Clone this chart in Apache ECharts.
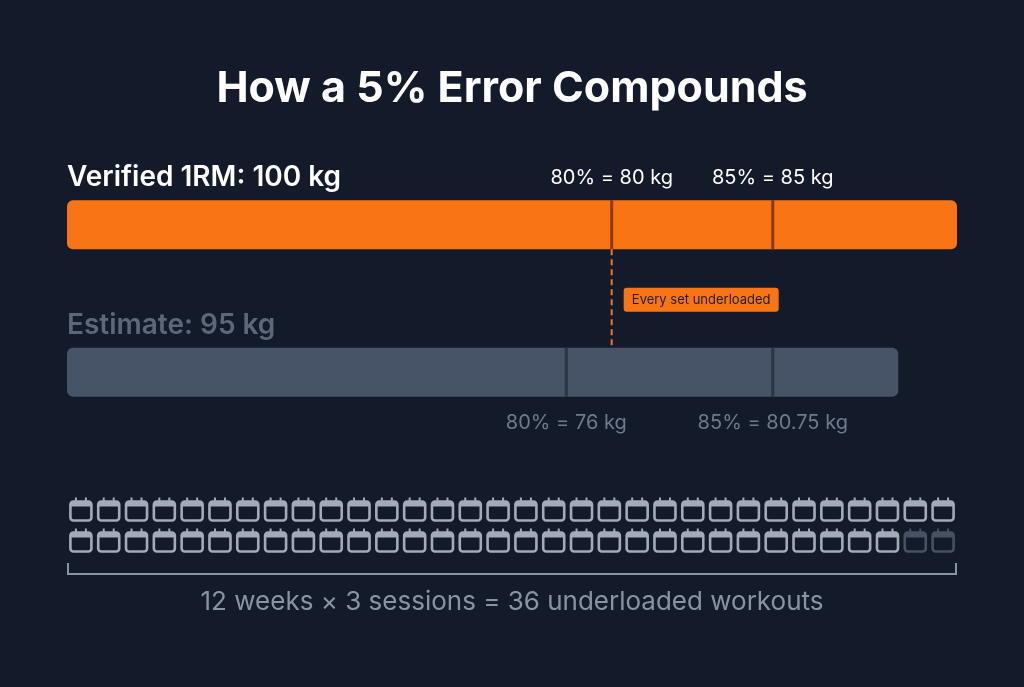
<!DOCTYPE html><html><head><meta charset="utf-8"><script src="https://cdn.jsdelivr.net/npm/echarts@6/dist/echarts.min.js"></script>
<style>html,body{margin:0;background:#131a2a}#c{width:1024px;height:687px}</style></head><body><div id="c"></div><script>
var rows=['Verified 1RM: 100 kg','Estimate: 95 kg'];
var barLen=[100,93.4];            // display length of each bar (share of track)
var markerPos=[[61.2,79.3],[56.1,79.3]]; // marker positions
var markerLabels=[['80% = 80 kg','85% = 85 kg'],['80% = 76 kg','85% = 80.75 kg']];
var calendarCols=32, calendarRows=2, dimIcons=2;
var calendars=[];for(var r=0;r<calendarRows;r++)for(var c=0;c<calendarCols;c++)calendars.push([c,r,(r==1&&c>=calendarCols-dimIcons)?1:0]);
var chart=echarts.init(document.getElementById('c'));
var F='Inter, Roboto, sans-serif';
chart.setOption({backgroundColor:'#131a2a',animation:false,
title:{text:'How a 5% Error Compounds',left:'center',top:63,textStyle:{color:'#fff',fontSize:43,fontWeight:'bold',fontFamily:F}},
grid:[{left:67,width:890,top:151,height:295},{left:67,width:890,top:494,height:62}],
xAxis:[{type:'value',min:0,max:100,show:false,gridIndex:0},{type:'value',min:-0.5,max:calendarCols-0.5,show:false,gridIndex:1}],
yAxis:[{type:'value',min:0,max:2,inverse:true,show:false,gridIndex:0},{type:'value',min:-0.5,max:1.5,inverse:true,show:false,gridIndex:1}],
series:[{type:'custom',xAxisIndex:0,yAxisIndex:0,data:barLen.map(function(v,i){return [v,i];}),
renderItem:function(p,api){var i=p.dataIndex;var s=api.coord([0,i+0.5]),e=api.coord([api.value(0),i+0.5]);
var orange=i==0;var ch=[];
ch.push({type:'rect',shape:{x:s[0],y:s[1]-24.5,width:e[0]-s[0],height:49,r:6},style:{fill:orange?'#f97415':'#475366'}});
markerPos[i].forEach(function(m,k){var q=api.coord([m,i+0.5]);
ch.push({type:'line',shape:{x1:q[0],y1:q[1]-24.5,x2:q[0],y2:q[1]+24.5},style:{stroke:orange?'#8a3a0c':'#2c3546',lineWidth:3}});
ch.push({type:'text',x:q[0],y:orange?q[1]-47:q[1]+51,style:{text:markerLabels[i][k],fill:orange?'#fff':'#6f7a8c',font:'20px '+F,align:'center',verticalAlign:'middle'}});});
ch.push({type:'text',x:s[0],y:s[1]-47,style:{text:rows[i],fill:orange?'#fff':'#5c6779',font:'600 28px '+F,verticalAlign:'middle'}});
if(orange){var q=api.coord([markerPos[0][0],0.5]);var q2=api.coord([markerPos[0][0],1.5]);
ch.push({type:'line',shape:{x1:q[0],y1:q[1]+24.5,x2:q2[0],y2:q2[1]+24.5},style:{stroke:'#f97415',lineWidth:2,lineDash:[6,4]}});
ch.push({type:'rect',shape:{x:q[0]+12,y:q[1]+63,width:155,height:24,r:3},style:{fill:'#f97415'}});
ch.push({type:'text',x:q[0]+89.5,y:q[1]+75,style:{text:'Every set underloaded',fill:'#1c1f29',font:'13px '+F,align:'center',verticalAlign:'middle'}});}
return {type:'group',children:ch};}},
{type:'custom',xAxisIndex:1,yAxisIndex:1,data:calendars,renderItem:function(p,api){var q=api.coord([api.value(0),api.value(1)]);var col=api.value(2)?'#485163':'#a3abb9';
return {type:'group',x:q[0],y:q[1],children:[
{type:'rect',shape:{x:-10.5,y:-8,width:21,height:19,r:3},style:{fill:'none',stroke:col,lineWidth:2.6}},
{type:'rect',shape:{x:-10.5,y:-8,width:21,height:5,r:[3,3,0,0]},style:{fill:col}},
{type:'line',shape:{x1:-5,y1:-12,x2:-5,y2:-7},style:{stroke:col,lineWidth:2}},
{type:'line',shape:{x1:5,y1:-12,x2:5,y2:-7},style:{stroke:col,lineWidth:2}}]};}}],
graphic:[{type:'polyline',shape:{points:[[68,563],[68,574],[956,574],[956,563]]},style:{stroke:'#8a93a3',lineWidth:2,fill:'none'}},
{type:'text',left:'center',top:589,style:{text:'12 weeks × 3 sessions = 36 underloaded workouts',fill:'#8a93a3',font:'26px '+F}}]});
</script></body></html>
